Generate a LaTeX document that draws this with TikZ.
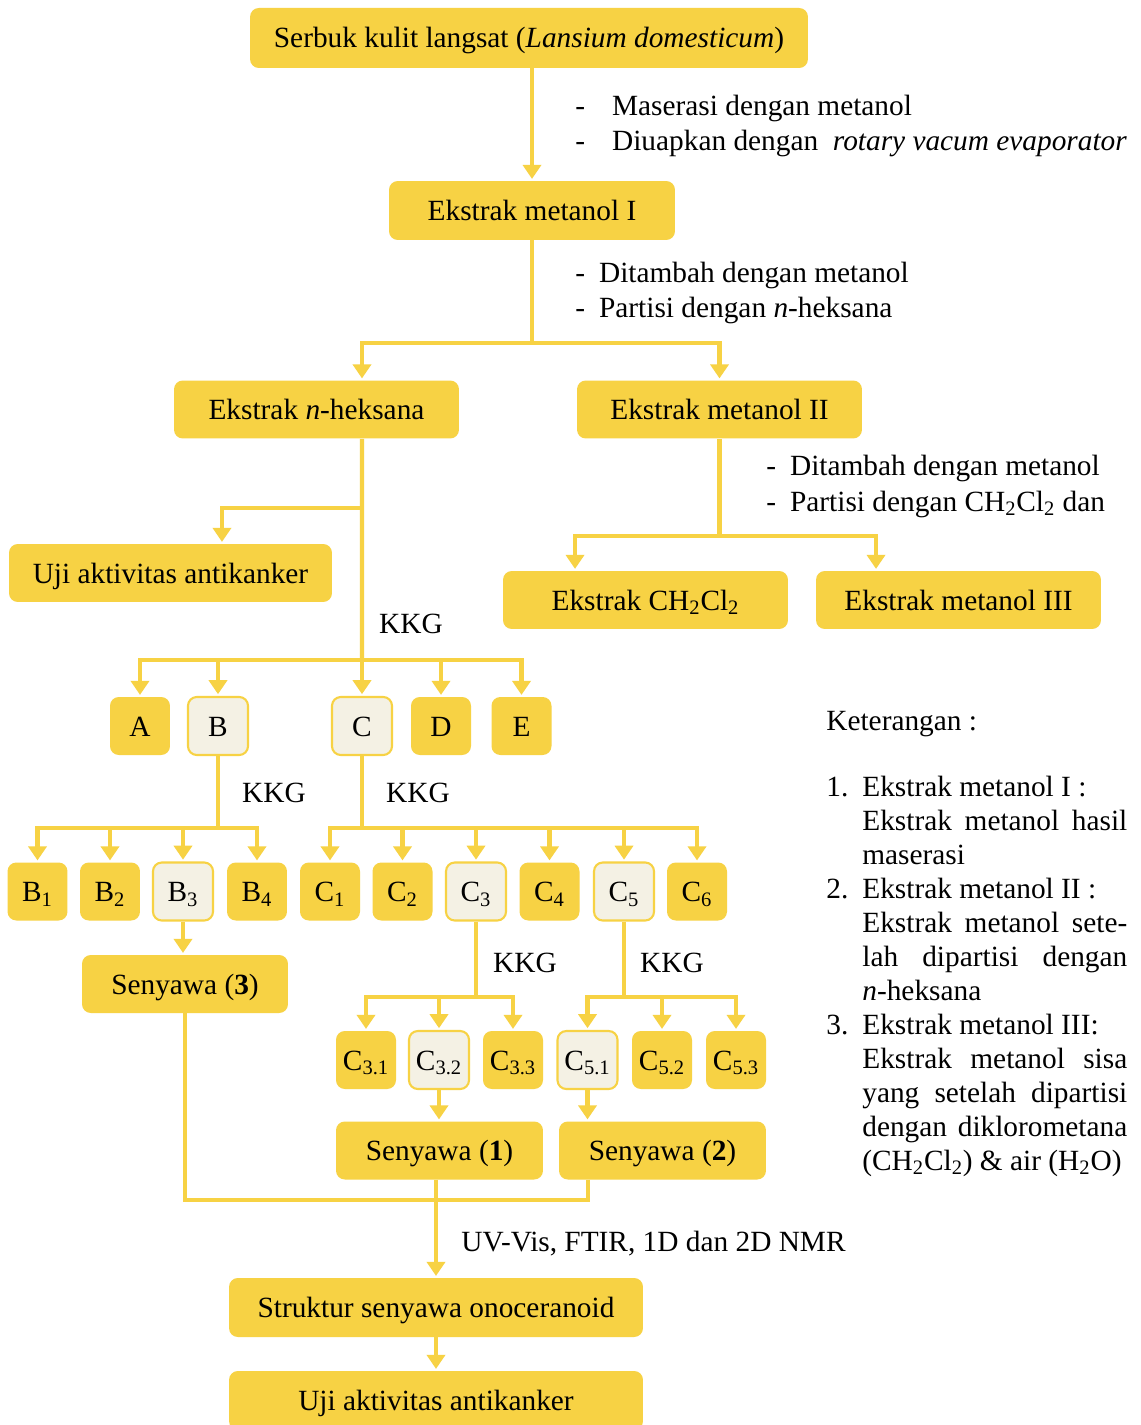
\documentclass[tikz,border=0pt]{standalone}
\usepackage{fontspec}
\setmainfont{Liberation Serif}
\usetikzlibrary{positioning, arrows.meta, calc}
\definecolor{kuning}{HTML}{F7D244}
\definecolor{krem}{HTML}{F4F1E4}
\newcommand{\teks}{\fontsize{16.7}{20}\selectfont}
\newcommand{\ketteks}{\fontsize{16.7}{19.35}\selectfont}

\begin{document}
\begin{tikzpicture}[x=0.02cm, y=-0.02cm,
    box/.style={fill=kuning, rounded corners=5pt, inner sep=0pt,
      minimum height=1.16cm, text height=0.5cm, text depth=0.1cm, font=\teks},
    kotak/.style={box, minimum width=1.2cm},
    pilih/.style={kotak, fill=krem, draw=kuning, line width=1.2pt},
    garis/.style={draw=kuning, line width=2.3pt},
    panah/.style={garis, -{Triangle[length=0.28cm, width=0.36cm]}, shorten >=1pt},
    ket/.style={inner sep=0pt, font=\teks, align=left, anchor=base west},
    item/.style={inner sep=0pt, font=\ketteks, anchor=base west,
      text width=5.3cm, align=justify}]
  \clip (0,0) rectangle (1141,1425);
  \fill[white] (0,0) rectangle (1141,1425);

  % ekstraksi
  \node[box, minimum width=11.16cm, minimum height=1.2cm] (serbuk) at (529,38)
    {Serbuk kulit langsat (\textit{Lansium domesticum})};
  \node[box, minimum width=5.72cm, minimum height=1.18cm] (ekI) at (532,210.5) {Ekstrak metanol I};
  \node[box, minimum width=5.7cm] (heks) at (316.5,409.5) {Ekstrak \textit{n}-heksana};
  \node[box, minimum width=5.7cm] (ekII) at (719.5,409.5) {Ekstrak metanol II};
  \node[box, minimum width=6.46cm] (uji) at (170.5,573) {Uji aktivitas antikanker};
  \node[box, minimum width=5.7cm] (dcm) at (645.5,600) {Ekstrak CH\textsubscript{2}Cl\textsubscript{2}};
  \node[box, minimum width=5.7cm] (ekIII) at (958.5,600) {Ekstrak metanol III};

  % fraksi
  \node[kotak] (a) at (140,726) {A};
  \node[pilih] (b) at (218,726) {B};
  \node[pilih] (c) at (362,726) {C};
  \node[kotak] (d) at (441,726) {D};
  \node[kotak] (e) at (521.5,726) {E};

  \foreach \n/\x in {1/37.5, 2/110, 4/257}
    \node[kotak] (b\n) at (\x,891.5) {B\textsubscript{\n}};
  \node[pilih] (b3) at (183,891.5) {B\textsubscript{3}};
  \foreach \n/\x in {1/330, 2/402.5, 4/549.5, 6/697}
    \node[kotak] (c\n) at (\x,891.5) {C\textsubscript{\n}};
  \node[pilih] (c3) at (476,891.5) {C\textsubscript{3}};
  \node[pilih] (c5) at (624,891.5) {C\textsubscript{5}};

  \node[kotak] (c31) at (366,1060) {C\textsubscript{3.1}};
  \node[pilih] (c32) at (439,1060) {C\textsubscript{3.2}};
  \node[kotak] (c33) at (513,1060) {C\textsubscript{3.3}};
  \node[pilih] (c51) at (587.5,1060) {C\textsubscript{5.1}};
  \node[kotak] (c52) at (662,1060) {C\textsubscript{5.2}};
  \node[kotak] (c53) at (736,1060) {C\textsubscript{5.3}};

  \node[box, minimum width=4.12cm] (sen3) at (185,984) {Senyawa (\textbf{3})};
  \node[box, minimum width=4.14cm] (sen1) at (439.5,1150.5) {Senyawa (\textbf{1})};
  \node[box, minimum width=4.14cm] (sen2) at (662.5,1150.5) {Senyawa (\textbf{2})};
  \node[box, minimum width=8.28cm, minimum height=1.18cm] (struktur) at (436,1307.5)
    {Struktur senyawa onoceranoid};
  \node[box, minimum width=8.28cm, minimum height=1.18cm] (ujiakhir) at (436,1400.5)
    {Uji aktivitas antikanker};

  % titik cabang
  \coordinate (j1) at (532,343);
  \coordinate (j2) at (362,660);
  \coordinate (j3) at (362,508);
  \coordinate (j4) at (719.5,536);
  \coordinate (jb) at (218,828);
  \coordinate (jc) at (362,828);
  \coordinate (jc3) at (476,997);
  \coordinate (jc5) at (624,997);
  \coordinate (jm) at (436,1200);

  % panah
  \draw[panah] (serbuk.south -| ekI) -- (ekI);
  \draw[garis] (ekI) -- (j1);
  \draw[panah] (j1) -| ([xshift=0.91cm]heks.north);
  \draw[panah] (j1) -| (ekII.north);
  \draw[garis] ([xshift=0.91cm]heks.south) -- (j2);
  \draw[panah] (j3) -| ([xshift=1.03cm]uji.north);
  \draw[garis] (ekII) -- (j4);
  \draw[panah] (j4) -| ([xshift=-1.41cm]dcm.north);
  \draw[panah] (j4) -| ([xshift=-1.65cm]ekIII.north);
  \foreach \f in {a,b,c,d,e}
    \draw[panah] (j2) -| (\f.north);
  \draw[garis] (b) -- (jb);
  \foreach \n in {1,...,4}
    \draw[panah] (jb) -| (b\n.north);
  \draw[garis] (c) -- (jc);
  \foreach \n in {1,...,6}
    \draw[panah] (jc) -| (c\n.north);
  \draw[panah] (b3.south) -- (b3.south |- sen3.north);
  \draw[garis] (c3) -- (jc3);
  \draw[garis] (c5) -- (jc5);
  \foreach \n in {1,2,3} {
    \draw[panah] (jc3) -| (c3\n.north);
    \draw[panah] (jc5) -| (c5\n.north);
  }
  \draw[panah] (c32.south) -- (c32.south |- sen1.north);
  \draw[panah] (c51.south) -- (c51.south |- sen2.north);
  \draw[garis] (sen3) |- (jm);
  \draw[garis] ([xshift=-1.49cm]sen2.south) |- (jm);
  \draw[garis] (sen1.south -| jm) -- (jm);
  \draw[panah] (jm) -- (struktur);
  \draw[panah] (struktur) -- (ujiakhir);

  % keterangan proses
  \node[ket] (p1) at (575,151)
    {-\hspace{0.54cm}Maserasi dengan metanol\\
     -\hspace{0.54cm}Diuapkan dengan \ \textit{rotary vacum evaporator}};
  \node[ket] (p2) at (575,318)
    {-\hspace{0.28cm}Ditambah dengan metanol\\-\hspace{0.28cm}Partisi dengan \textit{n}-heksana};
  \node[ket] (p3) at (766,511)
    {-\hspace{0.28cm}Ditambah dengan metanol\\-\hspace{0.28cm}Partisi dengan CH\textsubscript{2}Cl\textsubscript{2} dan};
  \node[font=\teks, inner sep=0pt] (kkg1) at (411,624) {KKG};
  \node[font=\teks, inner sep=0pt] (kkg2) at (274,793) {KKG};
  \node[font=\teks, inner sep=0pt] (kkg3) at (418,793) {KKG};
  \node[font=\teks, inner sep=0pt] (kkg4) at (525,963) {KKG};
  \node[font=\teks, inner sep=0pt] (kkg5) at (672,963) {KKG};
  \node[ket] (uv) at (461,1251) {UV-Vis, FTIR, 1D dan 2D NMR};

  % legenda
  \node[ket] (judul) at (826,730) {Keterangan :};
  \node[ket, font=\ketteks] (n1) at (826,796) {1.};
  \node[item] (k1) at (862,796)
    {Ekstrak metanol I :\\Ekstrak metanol hasil\linebreak maserasi};
  \node[ket, font=\ketteks] (n2) at (826,898) {2.};
  \node[item] (k2) at (862,898)
    {Ekstrak metanol II :\\Ekstrak metanol sete-\linebreak lah dipartisi dengan\linebreak \textit{n}-heksana};
  \node[ket, font=\ketteks] (n3) at (826,1034) {3.};
  \node[item] (k3) at (862,1034)
    {Ekstrak metanol III:\\Ekstrak metanol sisa\linebreak yang setelah dipartisi\linebreak
     dengan diklorometana\linebreak (CH\textsubscript{2}Cl\textsubscript{2}) \& air (H\textsubscript{2}O)};
\end{tikzpicture}
\end{document}
